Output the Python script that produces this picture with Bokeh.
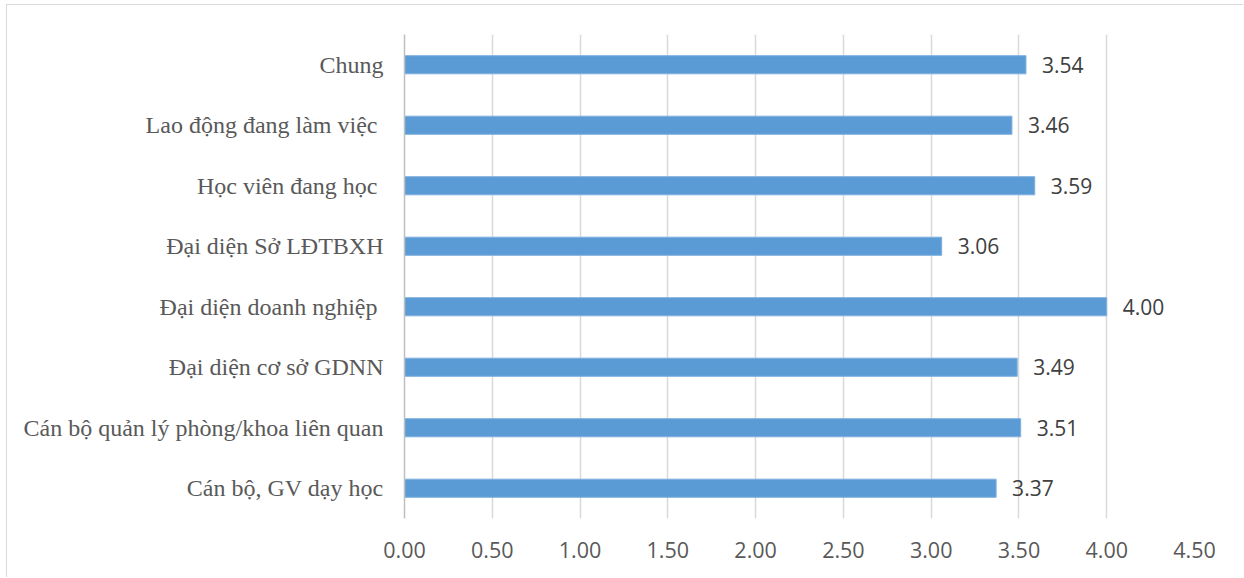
from bokeh.plotting import figure
from bokeh.models import ColumnDataSource, FactorRange, Range1d, FixedTicker
from bokeh.core.properties import value
from bokeh.embed import file_html
from bokeh.resources import INLINE

# bottom-to-top order
categories = [
    "Cán bộ, GV dạy học",
    "Cán bộ quản lý phòng/khoa liên quan",
    "Đại diện cơ sở GDNN",
    "Đại diện doanh nghiệp ",
    "Đại diện Sở LĐTBXH",
    "Học viên đang học ",
    "Lao động đang làm việc ",
    "Chung",
]
scores = [3.37, 3.51, 3.49, 4.00, 3.06, 3.59, 3.46, 3.54]
x_ticks = [0.0, 0.5, 1.0, 1.5, 2.0, 2.5, 3.0, 3.5, 4.0, 4.5]
tick_labels = {t: f"{t:.2f}" for t in x_ticks}

src = ColumnDataSource(dict(cat=categories, val=scores,
                            lab=[f"{v:.2f}" for v in scores]))

p = figure(width=1237, height=573, output_backend="svg", toolbar_location=None,
           y_range=FactorRange(*categories, range_padding=0),
           x_range=Range1d(0, 4.5),
           min_border_left=397, min_border_right=50,
           min_border_top=29, min_border_bottom=60)
p.styles = {"border-left": "1px solid #d9d9d9", "border-top": "1px solid #d9d9d9",
            "margin-left": "6px", "margin-top": "4px"}

p.hbar(y="cat", right="val", left=0, height=0.3, source=src,
       fill_color="#5B9BD5", line_color="#7FB0DE", line_width=1)

p.text(x="val", y="cat", text="lab", source=src, x_offset=16,
       text_baseline="middle", text_align="left",
       text_font=value("Open Sans"), text_font_size="21px", text_color="#404040")

p.outline_line_color = None
p.ygrid.grid_line_color = None
p.xgrid.grid_line_color = "#d9d9d9"
p.xgrid.grid_line_width = 1.5

p.xaxis.ticker = FixedTicker(ticks=x_ticks)
p.xaxis.major_label_overrides = tick_labels
p.xaxis.axis_line_color = None
p.xaxis.major_tick_line_color = None
p.xaxis.minor_tick_line_color = None
p.xaxis.major_label_standoff = 17
p.xaxis.major_label_text_font = "Open Sans"
p.xaxis.major_label_text_font_size = "21.5px"
p.xaxis.major_label_text_color = "#595959"

p.yaxis.axis_line_color = "#bfbfbf"
p.yaxis.axis_line_width = 1.5
p.yaxis.major_tick_line_color = None
p.yaxis.minor_tick_line_color = None
p.yaxis.major_label_standoff = 15
p.yaxis.major_label_text_font = "Liberation Serif"
p.yaxis.major_label_text_font_size = "24px"
p.yaxis.major_label_text_color = "#595959"

open("out.html", "w").write(file_html(p, INLINE))
